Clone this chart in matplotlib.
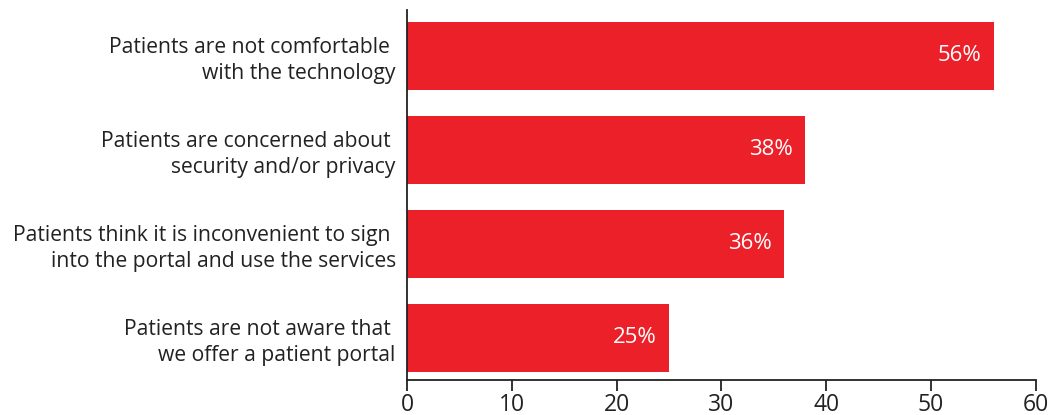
import matplotlib.pyplot as plt

plt.rcParams['font.family'] = ['Open Sans', 'DejaVu Sans']

reasons = [
    "Patients are not comfortable \nwith the technology",
    "Patients are concerned about \nsecurity and/or privacy",
    "Patients think it is inconvenient to sign \ninto the portal and use the services",
    "Patients are not aware that \nwe offer a patient portal",
]
shares = [56, 38, 36, 25]
x_ticks = [0, 10, 20, 30, 40, 50, 60]

fig = plt.figure(figsize=(10.56, 4.15), dpi=100)
ax = fig.add_axes([0.3854, 0.0843, 0.5956, 0.8917])

pos = list(range(len(reasons)))
ax.barh(pos, shares, height=0.723, color='#ec2028')
for y, v in zip(pos, shares):
    ax.text(v - 1.2, y, f"{v}%", ha='right', va='center', color='white',
            fontsize=16)

ax.set_xlim(0, 60)
ax.set_ylim(3.447, -0.489)
ax.set_yticks(pos)
ax.set_yticklabels(reasons, fontsize=15.2, color='#222222', ha='right',
                   multialignment='right', linespacing=1.3)
ax.tick_params(axis='y', length=0, pad=8)
ax.set_xticks(x_ticks)
ax.tick_params(axis='x', length=8, width=1.3, color='#222222', labelsize=16.5,
               labelcolor='#222222', pad=1)

for s in ['top', 'right']:
    ax.spines[s].set_visible(False)
for s in ['left', 'bottom']:
    ax.spines[s].set_linewidth(1.3)
    ax.spines[s].set_color('#222222')

fig.savefig('out.png', dpi=100)
